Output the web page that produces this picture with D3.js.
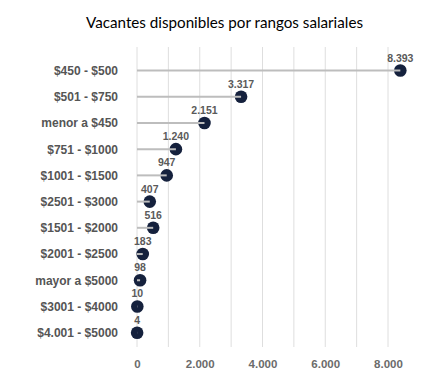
<!DOCTYPE html>
<html>
<head>
<meta charset="utf-8">
<script src="https://cdn.jsdelivr.net/npm/d3@7"></script>
<style>
  body { margin: 0; background: #fff; }
</style>
</head>
<body>
<script>
const width = 435, height = 379;
const title = 'Vacantes disponibles por rangos salariales';

const rangos = ['$450 - $500', '$501 - $750', 'menor a $450', '$751 - $1000', '$1001 - $1500',
  '$2501 - $3000', '$1501 - $2000', '$2001 - $2500', 'mayor a $5000', '$3001 - $4000', '$4.001 - $5000'];
const vacantes = [8393, 3317, 2151, 1240, 947, 407, 516, 183, 98, 10, 4];
const xTicks = [0, 2000, 4000, 6000, 8000];
const gridTicks = [0, 1000, 2000, 3000, 4000, 5000, 6000, 7000, 8000];

const margin = { top: 57, right: 16, bottom: 32, left: 137 };

const data = rangos.map((r, i) => ({ rango: r, valor: vacantes[i] }));

const fmt = d3.formatLocale({ decimal: ',', thousands: '.', grouping: [3], currency: ['$', ''] }).format(',d');

const svg = d3.select('body')
  .append('svg')
  .attr('width', width)
  .attr('height', height);

const xScale = d3.scaleLinear()
  .domain([0, 8000])
  .range([margin.left, 388]);

const yScale = d3.scalePoint()
  .domain(rangos)
  .range([70.5, 332.7]);

// titulo
svg.append('text')
  .attr('x', 224.5)
  .attr('y', 28)
  .attr('text-anchor', 'middle')
  .style('font-family', 'Lato, "Open Sans", sans-serif')
  .style('font-size', '15.2px')
  .style('fill', '#000')
  .text(title);

// grid
svg.append('g').selectAll('line')
  .data(gridTicks)
  .enter()
  .append('line')
  .attr('x1', d => xScale(d))
  .attr('x2', d => xScale(d))
  .attr('y1', 47)
  .attr('y2', 347)
  .style('stroke', '#dedede')
  .style('stroke-width', 1);

// eje x
const xAxis = svg.append('g')
  .attr('transform', `translate(0, 347)`)
  .call(d3.axisBottom(xScale).tickValues(xTicks).tickFormat(fmt).tickSize(0).tickPadding(13));
xAxis.select('.domain').remove();
xAxis.selectAll('text')
  .style('font-family', '"Liberation Sans", Arial, sans-serif')
  .style('font-size', '11.5px')
  .style('font-weight', 'bold')
  .style('fill', '#6b6b6b');

// eje y
const yAxis = svg.append('g')
  .attr('transform', `translate(118, 0)`)
  .call(d3.axisLeft(yScale).tickSize(0).tickPadding(0));
yAxis.select('.domain').remove();
yAxis.selectAll('text')
  .style('font-family', '"Liberation Sans", Arial, sans-serif')
  .style('font-size', '12px')
  .style('font-weight', 'bold')
  .style('fill', '#555');

// puntos
svg.append('g').selectAll('circle')
  .data(data)
  .enter()
  .append('circle')
  .attr('cx', d => xScale(d.valor))
  .attr('cy', d => yScale(d.rango))
  .attr('r', 6.3)
  .style('fill', '#15213d');

// palitos
svg.append('g').selectAll('line')
  .data(data)
  .enter()
  .append('line')
  .attr('x1', xScale(0))
  .attr('x2', d => xScale(d.valor))
  .attr('y1', d => yScale(d.rango))
  .attr('y2', d => yScale(d.rango))
  .style('stroke', '#bdbdbd')
  .style('stroke-width', 2);

// etiquetas de valor
svg.append('g').selectAll('text')
  .data(data)
  .enter()
  .append('text')
  .attr('x', d => xScale(d.valor))
  .attr('y', d => yScale(d.rango) - 9)
  .attr('text-anchor', 'middle')
  .style('font-family', '"Liberation Sans", Arial, sans-serif')
  .style('font-size', '10.5px')
  .style('font-weight', 'bold')
  .style('fill', '#5a5a5a')
  .text(d => fmt(d.valor));
</script>
</body>
</html>
